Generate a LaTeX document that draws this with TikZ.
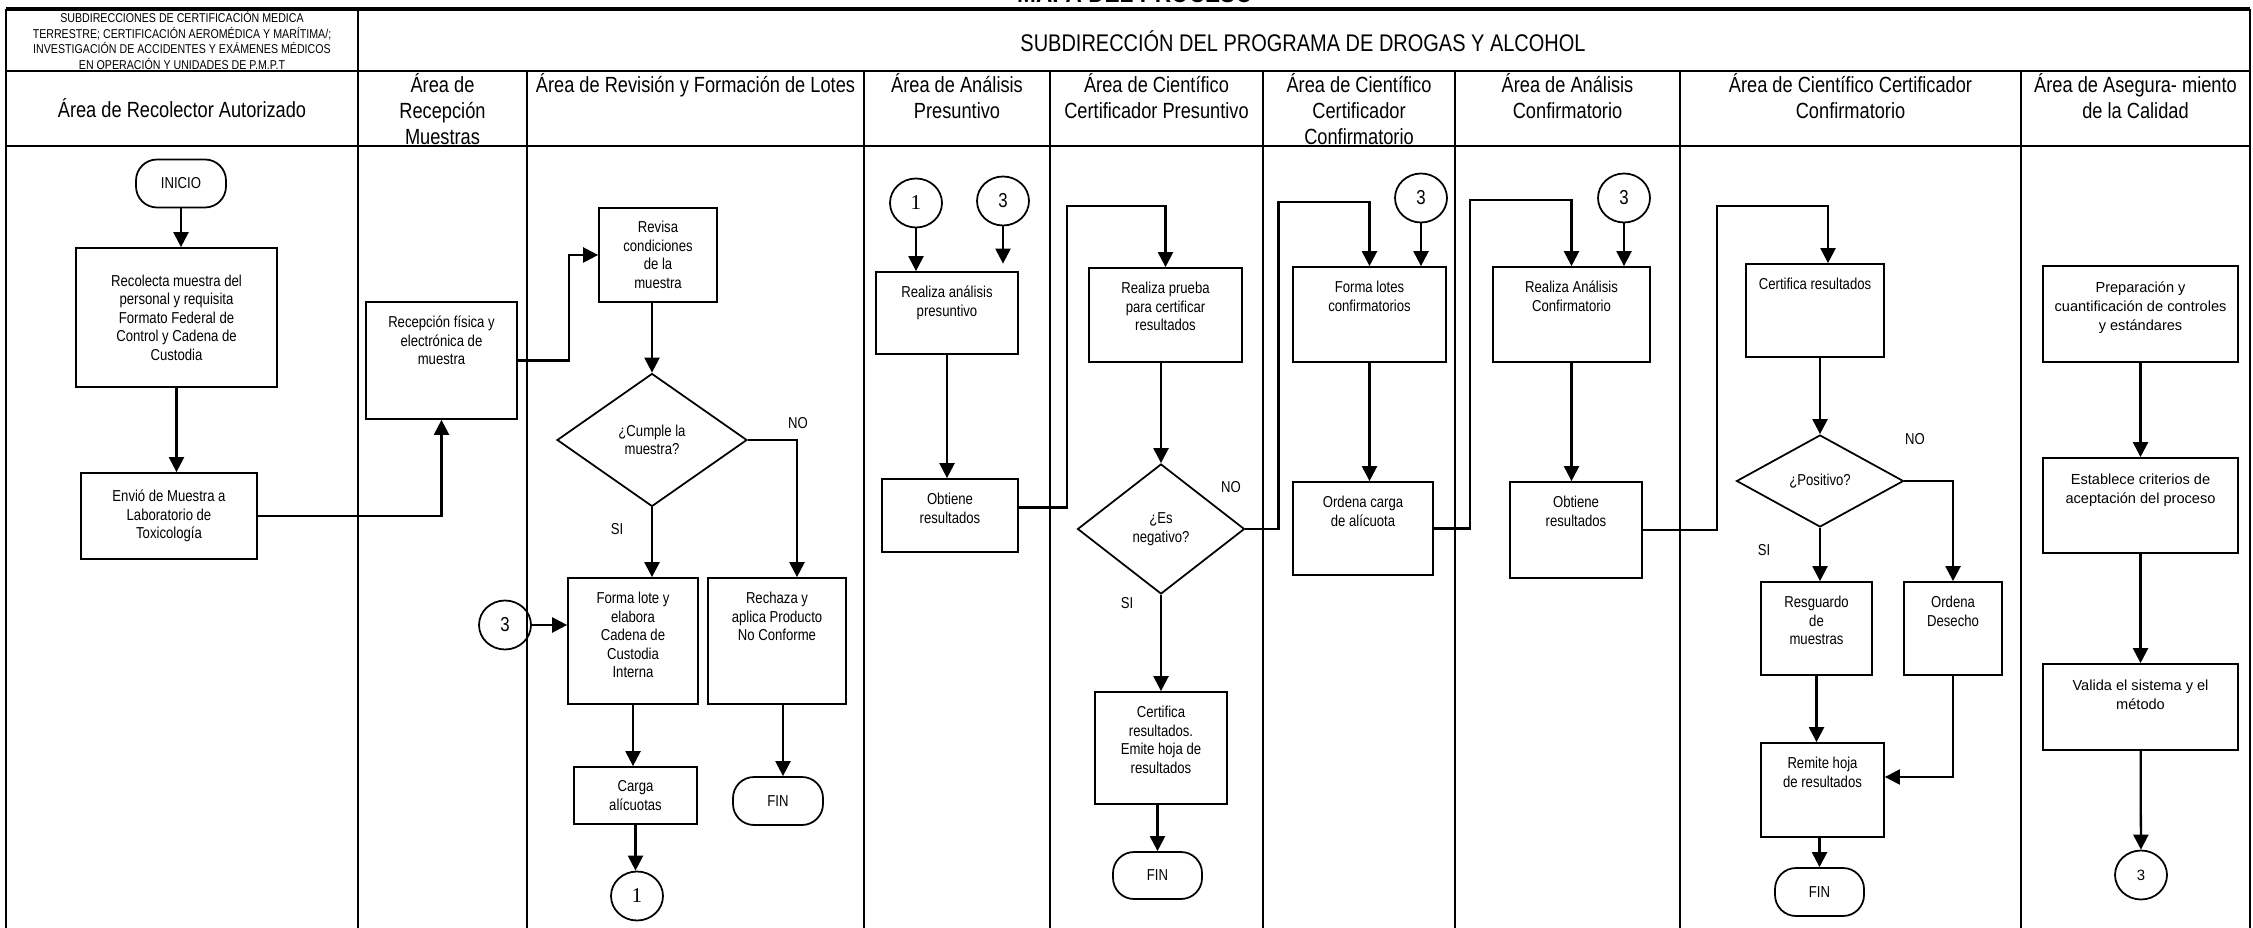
\documentclass[tikz,border=0pt]{standalone}
\usepackage{fontspec}
\setmainfont{Liberation Sans}[FakeStretch=0.83]
\newfontfamily\anchafont{Liberation Sans}
\newfontfamily\serifafont{Liberation Serif}
\usetikzlibrary{shapes.geometric,arrows.meta}

\begin{document}
\begin{tikzpicture}[x=0.02cm,y=-0.02cm]
  \tikzstyle{caja}=[draw, line width=1pt, inner sep=0pt, align=center, font=\fontsize{9}{10.5}\selectfont]
  \tikzstyle{texto}=[anchor=north, yshift=-0.27cm, inner sep=0pt, align=center, font=\fontsize{9}{10.5}\selectfont]
  \tikzstyle{calidad}=[texto, font=\anchafont\fontsize{8.3}{10.8}\selectfont]
  \tikzstyle{terminal}=[draw, line width=1pt, rounded corners=0.42cm, minimum width=1.8cm, minimum height=0.96cm, font=\fontsize{9}{10.5}\selectfont]
  \tikzstyle{decision}=[diamond, draw, line width=1pt, inner sep=0pt, align=center, font=\fontsize{9}{10.5}\selectfont]
  \tikzstyle{conector}=[ellipse, draw, line width=1pt, inner sep=0pt, minimum width=1.04cm, minimum height=0.98cm, font=\fontsize{11.5}{13}\selectfont]
  \tikzstyle{flecha}=[line width=1.3pt, -{Triangle[length=0.3cm,width=0.3cm]}]
  \tikzstyle{tabla}=[line width=1.2pt]
  \tikzstyle{carril}=[anchor=north, inner sep=0pt, align=center, font=\fontsize{12.5}{14.7}\selectfont]
  \tikzstyle{rotulo}=[inner sep=0pt, font=\fontsize{9}{10.5}\selectfont]
  \useasboundingbox (0,0) rectangle (2253,928);

  % encabezado
  \node[inner sep=0pt, anchor=base, font=\bfseries\fontsize{15.5}{18}\selectfont] (titulo) at (1135,3) {MAPA DEL PROCESO};
  \node[inner sep=0pt, align=center, font=\fontsize{7.3}{8.8}\selectfont] (sub_a) at (182,40.5) {SUBDIRECCIONES DE CERTIFICACIÓN MEDICA\\TERRESTRE; CERTIFICACIÓN AEROMÉDICA Y MARÍTIMA/;\\INVESTIGACIÓN DE ACCIDENTES Y EXÁMENES MÉDICOS\\EN OPERACIÓN Y UNIDADES DE P.M.P.T};
  \node[inner sep=0pt, font=\fontsize{13.7}{16}\selectfont] (sub_b) at (1303,41) {SUBDIRECCIÓN DEL PROGRAMA DE DROGAS Y ALCOHOL};

  \draw[tabla, line width=1.8pt] (6,9) -- (2250,9);
  \draw[tabla] (6,71) -- (2250,71);
  \draw[tabla] (6,146) -- (2250,146);
  \draw[tabla] (6,9) -- (6,928);
  \draw[tabla] (358,9) -- (358,928);
  \draw[tabla] (527,71) -- (527,928);
  \draw[tabla] (864,71) -- (864,928);
  \draw[tabla] (1050,71) -- (1050,928);
  \draw[tabla] (1263,71) -- (1263,928);
  \draw[tabla] (1455,71) -- (1455,928);
  \draw[tabla] (1680,71) -- (1680,928);
  \draw[tabla] (2021,71) -- (2021,928);
  \draw[tabla] (2250,9) -- (2250,928);

  \node[carril, anchor=center] (h_1) at (182,108.5) {Área de Recolector Autorizado};
  \node[carril] (h_2) at (442.5,73) {\strut Área de\\Recepción\\Muestras};
  \node[carril] (h_3) at (695.5,73) {\strut Área de Revisión y Formación de Lotes};
  \node[carril] (h_4) at (957,73) {\strut Área de Análisis\\Presuntivo};
  \node[carril] (h_5) at (1156.5,73) {\strut Área de Científico\\Certificador Presuntivo};
  \node[carril] (h_6) at (1359,73) {\strut Área de Científico\\Certificador\\Confirmatorio};
  \node[carril] (h_7) at (1567.5,73) {\strut Área de Análisis\\Confirmatorio};
  \node[carril] (h_8) at (1850.5,73) {\strut Área de Científico Certificador\\Confirmatorio};
  \node[carril] (h_9) at (2135.5,73) {\strut Área de Asegura- miento\\de la Calidad};

  % recolector y recepcion
  \node[terminal] (inicio) at (181,183.5) {INICIO};
  \node[caja, minimum width=4.02cm, minimum height=2.78cm] (recolecta) at (176.5,317.5) {Recolecta muestra del\\personal y requisita\\Formato Federal de\\Control y Cadena de\\Custodia};
  \node[caja, minimum width=3.52cm, minimum height=1.72cm] (envio) at (169,516) {Envió de Muestra a\\Laboratorio de\\Toxicología};
  \node[caja, minimum width=3.02cm, minimum height=2.34cm, label={[texto]north:{\strut Recepción física y\\electrónica de\\muestra}}] (recepcion) at (441.5,360.5) {};

  % revision y lotes
  \node[caja, minimum width=2.36cm, minimum height=1.88cm] (revisa) at (658,255) {Revisa\\condiciones\\de la\\muestra};
  \node[decision, minimum width=3.8cm, minimum height=2.66cm] (cumple) at (652,440) {¿Cumple la\\muestra?};
  \node[caja, minimum width=2.6cm, minimum height=2.52cm, label={[texto]north:{\strut Forma lote y\\elabora\\Cadena de\\Custodia\\Interna}}] (forma) at (633,641) {};
  \node[caja, minimum width=2.76cm, minimum height=2.52cm, label={[texto]north:{\strut Rechaza y\\aplica Producto\\No Conforme}}] (rechaza) at (777,641) {};
  \node[conector] (tres_a) at (505,625) {3};
  \node[caja, minimum width=2.46cm, minimum height=1.14cm] (carga) at (635.5,795.5) {Carga\\alícuotas};
  \node[conector, font=\serifafont\fontsize{12}{14}\selectfont] (uno_a) at (637,896) {1};
  \node[terminal] (fin_a) at (778,801) {FIN};
  \node[rotulo] (no_a) at (798,423) {NO};
  \node[rotulo] (si_a) at (617,529) {SI};

  % analisis presuntivo
  \node[conector, font=\serifafont\fontsize{12}{14}\selectfont] (uno_b) at (916,203) {1};
  \node[conector] (tres_b) at (1003,201) {3};
  \node[caja, minimum width=2.84cm, minimum height=1.64cm, label={[texto]north:{\strut Realiza análisis\\presuntivo}}] (analiza) at (947,313) {};
  \node[caja, minimum width=2.72cm, minimum height=1.46cm, label={[texto]north:{\strut Obtiene\\resultados}}] (obtiene_a) at (950,515.5) {};

  % certificador presuntivo
  \node[caja, minimum width=3.06cm, minimum height=1.88cm, label={[texto]north:{\strut Realiza prueba\\para certificar\\resultados}}] (prueba) at (1165.5,315) {};
  \node[decision, minimum width=3.34cm, minimum height=2.6cm] (negativo) at (1161,529) {¿Es\\negativo?};
  \node[caja, minimum width=2.64cm, minimum height=2.24cm, label={[texto]north:{\strut Certifica\\resultados.\\Emite hoja de\\resultados}}] (certifica) at (1161,748) {};
  \node[terminal, minimum width=1.78cm, minimum height=0.94cm] (fin_b) at (1157.5,875.5) {FIN};
  \node[rotulo] (no_b) at (1231,487) {NO};
  \node[rotulo] (si_b) at (1127,603) {SI};

  % certificador confirmatorio
  \node[conector] (tres_c) at (1421,198) {3};
  \node[caja, minimum width=3.06cm, minimum height=1.9cm, label={[texto]north:{\strut Forma lotes\\confirmatorios}}] (lotes) at (1369.5,314.5) {};
  \node[caja, minimum width=2.8cm, minimum height=1.86cm, label={[texto]north:{\strut Ordena carga\\de alícuota}}] (ordena) at (1363,528.5) {};

  % analisis confirmatorio
  \node[conector] (tres_d) at (1624,198) {3};
  \node[caja, minimum width=3.14cm, minimum height=1.9cm, label={[texto]north:{\strut Realiza Análisis\\Confirmatorio}}] (confirma) at (1571.5,314.5) {};
  \node[caja, minimum width=2.64cm, minimum height=1.92cm, label={[texto]north:{\strut Obtiene\\resultados}}] (obtiene_b) at (1576,530) {};

  % cientifico certificador confirmatorio
  \node[caja, minimum width=2.76cm, minimum height=1.86cm, label={[texto]north:{\strut Certifica resultados}}] (certres) at (1815,310.5) {};
  \node[decision, minimum width=3.34cm, minimum height=1.84cm] (positivo) at (1820,481) {¿Positivo?};
  \node[caja, minimum width=2.22cm, minimum height=1.86cm, label={[texto]north:{\strut Resguardo\\de\\muestras}}] (resguardo) at (1816.5,628.5) {};
  \node[caja, minimum width=1.96cm, minimum height=1.86cm, label={[texto]north:{\strut Ordena\\Desecho}}] (desecho) at (1953,628.5) {};
  \node[caja, minimum width=2.46cm, minimum height=1.88cm, label={[texto]north:{\strut Remite hoja\\de resultados}}] (remite) at (1822.5,790) {};
  \node[terminal, minimum width=1.78cm, minimum height=0.96cm] (fin_c) at (1819.5,892) {FIN};
  \node[rotulo] (no_c) at (1915,439) {NO};
  \node[rotulo] (si_c) at (1764,550) {SI};

  % aseguramiento de la calidad
  \node[caja, minimum width=3.9cm, minimum height=1.92cm, label={[calidad]north:{\strut Preparación y\\cuantificación de controles\\y estándares}}] (prepara) at (2140.5,314) {};
  \node[caja, minimum width=3.9cm, minimum height=1.9cm, label={[calidad]north:{\strut Establece criterios de\\aceptación del proceso}}] (establece) at (2140.5,505.5) {};
  \node[caja, minimum width=3.9cm, minimum height=1.72cm, label={[calidad]north:{\strut Valida el sistema y el\\método}}] (valida) at (2140.5,707) {};
  \node[conector, font=\anchafont\fontsize{8.5}{10}\selectfont] (tres_e) at (2141,875) {3};

  % flechas
  \draw[flecha] (inicio.south) -- (inicio.south |- recolecta.north);
  \draw[flecha] (recolecta.south) -- (recolecta.south |- envio.north);
  \draw[flecha] (envio.east) -| (recepcion.south);
  \draw[flecha] (recepcion.east) -- ++(51,0) |- (revisa.west);
  \draw[flecha] (cumple.north |- revisa.south) -- (cumple.north);
  \draw[flecha] (cumple.east) -| ([xshift=0.4cm]rechaza.north);
  \draw[flecha] (cumple.south) -- (cumple.south |- forma.north);
  \draw[flecha] (tres_a.east) -- (tres_a.east -| forma.west);
  \draw[flecha] (forma.south) -- (forma.south |- carga.north);
  \draw[flecha] (carga.south) -- (carga.south |- uno_a.north);
  \draw[flecha] ([xshift=0.12cm]rechaza.south) -- ([xshift=0.12cm]rechaza.south |- fin_a.north);

  \draw[flecha] (uno_b.south) -- (uno_b.south |- analiza.north);
  \draw[flecha, shorten >=0.15cm] (tres_b.south) -- (tres_b.south |- analiza.north);
  \draw[flecha] (analiza.south) -- (analiza.south |- obtiene_a.north);
  \draw[flecha] ([yshift=0.16cm]obtiene_a.east) -- ++(48,0) |- ([yshift=1.22cm]prueba.north) -- (prueba.north);
  \draw[flecha] (negativo.north |- prueba.south) -- (negativo.north);
  \draw[flecha] (negativo.east) -- ++(33,0) |- ([yshift=1.28cm]lotes.north) -- (lotes.north);
  \draw[flecha] (negativo.south) -- (certifica.north);
  \draw[flecha] (fin_b.north |- certifica.south) -- (fin_b.north);

  \draw[flecha] (tres_c.south) -- (tres_c.south |- lotes.north);
  \draw[flecha] (lotes.south) -- (lotes.south |- ordena.north);
  \draw[flecha] (ordena.east) -- ++(36,0) |- ([yshift=1.32cm]confirma.north) -- (confirma.north);
  \draw[flecha] (tres_d.south) -- (tres_d.south |- confirma.north);
  \draw[flecha] (confirma.south) -- (confirma.south |- obtiene_b.north);
  \draw[flecha] (obtiene_b.east) -- ++(74,0) |- ([xshift=0.26cm,yshift=1.14cm]certres.north) -- ([xshift=0.26cm]certres.north);

  \draw[flecha] (positivo.north |- certres.south) -- (positivo.north);
  \draw[flecha] (positivo.east) -| (desecho.north);
  \draw[flecha] (positivo.south) -- (positivo.south |- resguardo.north);
  \draw[flecha] (resguardo.south) -- (resguardo.south |- remite.north);
  \draw[flecha] (desecho.south) |- ([yshift=0.26cm]remite.east);
  \draw[flecha] (fin_c.north |- remite.south) -- (fin_c.north);

  \draw[flecha] (prepara) -- (establece);
  \draw[flecha] (establece) -- (valida);
  \draw[flecha] (valida) -- (tres_e);
\end{tikzpicture}
\end{document}
